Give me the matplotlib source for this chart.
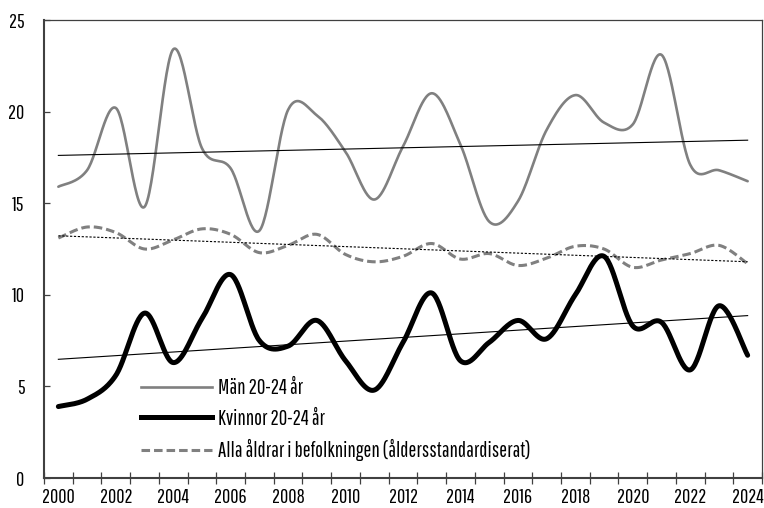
import numpy as np
import matplotlib
matplotlib.use("Agg")
import matplotlib.pyplot as plt
from matplotlib.lines import Line2D

plt.rcParams['font.family'] = ['Pathway Gothic One', 'DejaVu Sans']

years = list(range(2000, 2025))
men = [15.9, 16.8, 20.2, 14.8, 23.4, 18.0, 16.9, 13.5, 20.1, 19.8, 17.8, 15.2, 18.1,
       21.0, 18.2, 14.0, 15.1, 19.0, 20.9, 19.4, 19.3, 23.1, 17.1, 16.8, 16.2]
women = [3.9, 4.3, 5.6, 9.0, 6.3, 8.7, 11.1, 7.5, 7.2, 8.6, 6.4, 4.8, 7.4,
         10.1, 6.4, 7.4, 8.6, 7.6, 10.0, 12.1, 8.3, 8.5, 5.9, 9.4, 6.7]
all_ages = [13.1, 13.7, 13.4, 12.5, 13.0, 13.6, 13.3, 12.3, 12.7, 13.3, 12.2, 11.8, 12.1,
            12.8, 11.95, 12.25, 11.6, 12.0, 12.65, 12.5, 11.5, 11.9, 12.25, 12.7, 11.7]
labels = ["Män 20-24 år", "Kvinnor 20-24 år", "Alla åldrar i befolkningen (åldersstandardiserat)"]
yticks = [0, 5, 10, 15, 20, 25]


def smooth(x, y, n=30):
    x = np.asarray(x, float)
    y = np.asarray(y, float)
    xs, ys = [], []
    N = len(x)
    for i in range(N - 1):
        p0 = (x[max(i - 1, 0)], y[max(i - 1, 0)])
        p1 = (x[i], y[i])
        p2 = (x[i + 1], y[i + 1])
        p3 = (x[min(i + 2, N - 1)], y[min(i + 2, N - 1)])
        c1 = (p1[0] + (p2[0] - p0[0]) / 6, p1[1] + (p2[1] - p0[1]) / 6)
        c2 = (p2[0] - (p3[0] - p1[0]) / 6, p2[1] - (p3[1] - p1[1]) / 6)
        t = np.linspace(0, 1, n, endpoint=(i == N - 2))
        a = (1 - t) ** 3
        b = 3 * (1 - t) ** 2 * t
        c = 3 * (1 - t) * t ** 2
        d = t ** 3
        xs.append(a * p1[0] + b * c1[0] + c * c2[0] + d * p2[0])
        ys.append(a * p1[1] + b * c1[1] + c * c2[1] + d * p2[1])
    return np.concatenate(xs), np.concatenate(ys)


fig = plt.figure(figsize=(7.64, 5.08), dpi=100)
ax = fig.add_axes([44 / 764, 30 / 508, 718 / 764, 458 / 508])

idx = np.arange(len(years))

grey = '#808080'
sx, sy = smooth(idx, men)
ax.plot(sx, sy, color=grey, lw=1.9, solid_capstyle='round', zorder=3)
sx, sy = smooth(idx, women)
ax.plot(sx, sy, color='black', lw=3.6, solid_capstyle='round', zorder=4)
sx, sy = smooth(idx, all_ages)
ax.plot(sx, sy, color=grey, lw=2.2, dashes=(2.8, 1.3), zorder=3)

# linear trend lines
for series, ls in [(men, '-'), (women, '-'), (all_ages, (0, (2, 1.5)))]:
    k, m = np.polyfit(idx, series, 1)
    ax.plot(idx, k * idx + m, color='black', lw=0.8, linestyle=ls, zorder=5)

ax.set_xlim(-0.5, len(years) - 0.5)
ax.set_ylim(0, 25)
ax.set_yticks(yticks)
ax.set_yticklabels([str(v) for v in yticks])

ax.set_xticks(np.arange(-0.5, len(years), 1.0))
ax.set_xticklabels([])
ax.set_xticks(idx[::2], minor=True)
ax.set_xticklabels([str(y) for y in years[::2]], minor=True)
ax.tick_params(axis='x', which='major', direction='inout', length=8, width=0.9, color='#404040')
ax.tick_params(axis='x', which='minor', length=0, pad=7, labelsize=14.5)
ax.tick_params(axis='y', direction='in', length=4, width=0.9, color='#404040', pad=14, labelsize=14.5)

for s in ['left', 'bottom']:
    ax.spines[s].set_color('#404040')
    ax.spines[s].set_linewidth(1.5)
for s in ['top', 'right']:
    ax.spines[s].set_color('#404040')
    ax.spines[s].set_linewidth(0.9)

handles = [Line2D([], [], color=grey, lw=1.9),
           Line2D([], [], color='black', lw=3.6),
           Line2D([], [], color=grey, lw=2.2, dashes=(2.8, 1.3))]
ax.legend(handles, labels, loc='lower left', bbox_to_anchor=(0.135, 0.037),
          frameon=False, fontsize=15, handlelength=3.4, handletextpad=0.3,
          labelspacing=0.5, borderpad=0, borderaxespad=0)

fig.savefig('out.png', dpi=100)
